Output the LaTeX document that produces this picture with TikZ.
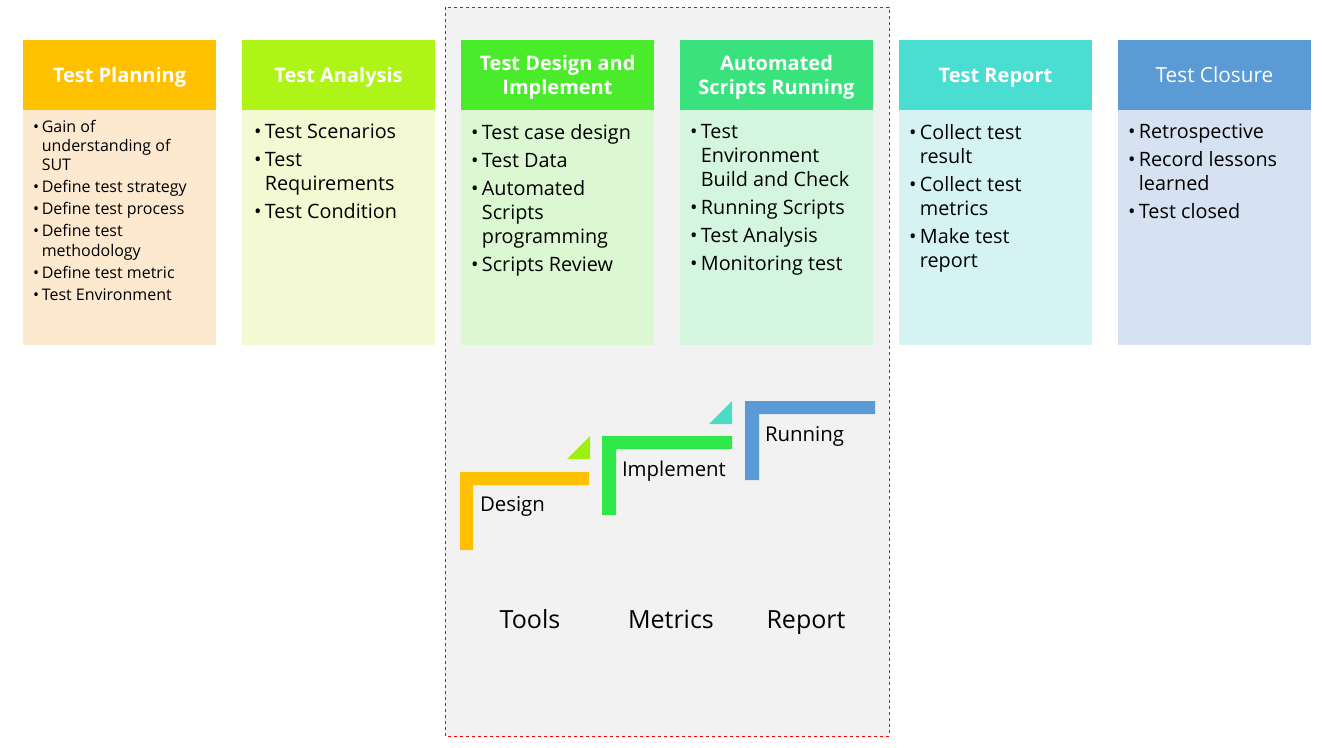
\documentclass[tikz,border=0pt]{standalone}
\usepackage{fontspec}
\setmainfont{Open Sans}
\usetikzlibrary{positioning}

\definecolor{planH}{HTML}{FFC000}
\definecolor{planB}{HTML}{FDE9D0}
\definecolor{analH}{HTML}{AEF416}
\definecolor{analB}{HTML}{F3FAD3}
\definecolor{desH}{HTML}{4AEB2A}
\definecolor{desB}{HTML}{DBF8D2}
\definecolor{runH}{HTML}{3AE27E}
\definecolor{runB}{HTML}{D4F6DF}
\definecolor{repH}{HTML}{4ADDD2}
\definecolor{repB}{HTML}{D6F3F3}
\definecolor{cloH}{HTML}{5B9BD5}
\definecolor{cloB}{HTML}{D6E1F1}
\definecolor{toolbg}{HTML}{F2F2F2}
\definecolor{triA}{HTML}{9EF014}
\definecolor{triB}{HTML}{4ADDC4}
\definecolor{stepG}{HTML}{30E84A}

% bullet item with hanging text
\newcommand{\bitem}[1]{\par\hangindent=0.55em\hangafter=1\noindent\makebox[0.55em][l]{\textbullet}#1}
\newenvironment{blist}[1][4pt]{\begin{minipage}[t]{185pt}\setlength{\parskip}{#1}}{\end{minipage}}

\begin{document}
\begin{tikzpicture}[x=1pt,y=-1pt,outer sep=0pt,
    head/.style={rectangle,minimum width=193pt,minimum height=70pt,inner sep=0pt,
      text depth=0pt,text=white,font=\fontsize{20}{24}\selectfont\bfseries,align=center},
    body/.style={rectangle,minimum width=193pt,minimum height=235pt,inner sep=0pt},
    items/.style={inner sep=0pt,anchor=north west,font=\fontsize{19.8}{24}\selectfont},
    smallitems/.style={items,font=\fontsize{16}{19.3}\selectfont},
    steplabel/.style={inner sep=0pt,anchor=base west,font=\fontsize{20.4}{24}\selectfont},
    tool/.style={inner sep=0pt,anchor=base,font=\fontsize{25}{30}\selectfont}]
  \useasboundingbox (0,0) rectangle (1322,747);

  % tools frame
  \fill[toolbg] (445,7) rectangle (889,736);
  \draw[red,dashed,line width=0.8pt] (445,7) rectangle (889,736);

  % headers
  \node[head,fill=planH] (plan) at (119.5,75) {Test Planning};
  \node[head,fill=analH,right=26pt of plan] (anal) {Test Analysis};
  \node[head,fill=desH,right=26pt of anal] (des) {Test Design and\\Implement};
  \node[head,fill=runH,right=26pt of des] (run) {Automated\\Scripts Running};
  \node[head,fill=repH,right=26pt of run] (rep) {Test Report};
  \node[head,fill=cloH,right=26pt of rep,font=\fontsize{20.8}{24}\selectfont] (clo) {Test Closure};

  % bodies
  \node[body,fill=planB,below=0pt of plan] (planBody) {};
  \node[body,fill=analB,below=0pt of anal] (analBody) {};
  \node[body,fill=desB,below=0pt of des] (desBody) {};
  \node[body,fill=runB,below=0pt of run] (runBody) {};
  \node[body,fill=repB,below=0pt of rep] (repBody) {};
  \node[body,fill=cloB,below=0pt of clo] (cloBody) {};

  \node[smallitems,below right=10pt and 10pt of planBody.north west] (planList) {\begin{blist}[2.7pt]
    \bitem{Gain of\\understanding of\\SUT}
    \bitem{Define test strategy}
    \bitem{Define test process}
    \bitem{Define test\\methodology}
    \bitem{Define test metric}
    \bitem{Test Environment}\end{blist}};
  \node[items,below right=14pt and 12pt of analBody.north west] (analList) {\begin{blist}
    \bitem{Test Scenarios}
    \bitem{Test\\Requirements}
    \bitem{Test Condition}\end{blist}};
  \node[items,below right=14pt and 10pt of desBody.north west] (desList) {\begin{blist}
    \bitem{Test case design}
    \bitem{Test Data}
    \bitem{Automated\\Scripts\\programming}
    \bitem{Scripts Review}\end{blist}};
  \node[items,below right=14pt and 10pt of runBody.north west] (runList) {\begin{blist}
    \bitem{Test\\Environment\\Build and Check}
    \bitem{Running Scripts}
    \bitem{Test Analysis}
    \bitem{Monitoring test}\end{blist}};
  \node[items,below right=14pt and 10pt of repBody.north west] (repList) {\begin{blist}
    \bitem{Collect test\\result}
    \bitem{Collect test\\metrics}
    \bitem{Make test\\report}\end{blist}};
  \node[items,below right=14pt and 10pt of cloBody.north west] (cloList) {\begin{blist}
    \bitem{Retrospective}
    \bitem{Record lessons\\learned}
    \bitem{Test closed}\end{blist}};

  % steps
  \fill[planH] (460,472) -- (589,472) -- (589,485) -- (473,485) -- (473,550) -- (460,550) -- cycle;
  \fill[triA] (567,459) -- (590,459) -- (590,436) -- cycle;
  \fill[stepG] (602,436) -- (732,436) -- (732,449) -- (616,449) -- (616,515) -- (602,515) -- cycle;
  \fill[triB] (709,424) -- (732,424) -- (732,401) -- cycle;
  \fill[cloH] (745,401) -- (875,401) -- (875,414) -- (759,414) -- (759,480) -- (745,480) -- cycle;

  \node[steplabel] (design) at (480,511) {Design};
  \node[steplabel] (implement) at (622,476) {Implement};
  \node[steplabel] (running) at (765,441) {Running};

  \node[tool] (tools) at (530,628) {Tools};
  \node[tool] (metrics) at (671,628) {Metrics};
  \node[tool] (report) at (806,628) {Report};
\end{tikzpicture}
\end{document}
